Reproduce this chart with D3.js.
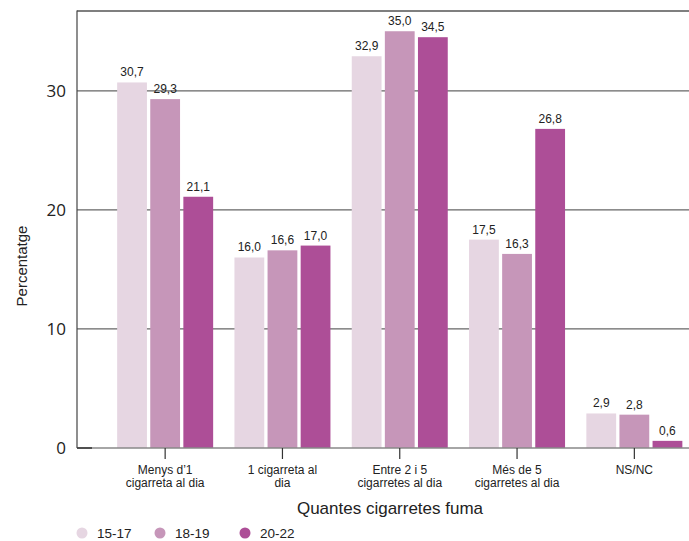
<!DOCTYPE html>
<html><head><meta charset="utf-8">
<script src="https://cdn.jsdelivr.net/npm/d3@7"></script>
<style>body{margin:0;background:#fff}svg{display:block}text{font-family:"Liberation Sans",Arial,sans-serif;fill:#222}</style>
</head><body><svg id="c" width="689" height="541"></svg>
<script>
const categories = [["Menys d\u20191","cigarreta al dia"],["1 cigarreta al","dia"],["Entre 2 i 5","cigarretes al dia"],["M\u00e9s de 5","cigarretes al dia"],["NS/NC"]];
const series = ["15-17","18-19","20-22"];
const v1517 = [30.7,16.0,32.9,17.5,2.9];
const v1819 = [29.3,16.6,35.0,16.3,2.8];
const v2022 = [21.1,17.0,34.5,26.8,0.6];
const colors = ["#e6d6e2","#c696b9","#ad4e97"];
const yTicks = [0,10,20,30];
const xTitle = "Quantes cigarretes fuma";
const yTitle = "Percentatge";

(function(){
const values = [v1517,v1819,v2022];
const svg = d3.select("#c");
const pL = 77, pR = 689, pT = 11, pB = 448;
const y = d3.scaleLinear().domain([0,36.7]).range([pB,pT]);
const catIdx = categories.map((d,i)=>i);
const x = d3.scaleBand().domain(catIdx).range([106.5,693]).paddingInner(0).paddingOuter(0);
const xi = d3.scaleBand().domain(d3.range(series.length)).range([0,96]).paddingInner(0.1);
const off = (x.bandwidth()-96)/2;

svg.append("g").selectAll("line").data(yTicks.filter(d=>d>0)).join("line")
  .attr("x1",pL).attr("x2",pR).attr("y1",d=>y(d)).attr("y2",d=>y(d))
  .attr("stroke","#666").attr("stroke-width",1.2);
svg.append("line").attr("x1",pL).attr("x2",pR).attr("y1",pT).attr("y2",pT).attr("stroke","#555").attr("stroke-width",1.5);

series.forEach((s,si)=>{
  const g = svg.append("g");
  g.selectAll("rect").data(values[si]).join("rect")
    .attr("x",(d,i)=>x(i)+off+xi(si)).attr("width",xi.bandwidth())
    .attr("y",d=>y(d)).attr("height",d=>y(0)-y(d)).attr("fill",colors[si]);
  g.selectAll("text").data(values[si]).join("text")
    .attr("x",(d,i)=>x(i)+off+xi(si)+xi.bandwidth()/2).attr("y",d=>y(d)-6)
    .attr("text-anchor","middle").attr("font-size",12)
    .text(d=>d3.format(".1f")(d).replace(".",","));
});

svg.append("line").attr("x1",pL).attr("x2",pR).attr("y1",pB).attr("y2",pB).attr("stroke","#888").attr("stroke-width",1.5);
svg.append("line").attr("x1",pL).attr("x2",92).attr("y1",pB).attr("y2",pB).attr("stroke","#333").attr("stroke-width",1.5);
svg.append("line").attr("x1",pL).attr("x2",pL).attr("y1",pT-0.5).attr("y2",pB).attr("stroke","#444").attr("stroke-width",1.2);

svg.append("g").selectAll("text").data(yTicks).join("text")
  .attr("x",66).attr("y",d=>y(d)).attr("dy","0.36em").attr("text-anchor","end")
  .attr("font-size",17).style("font-family","'Open Sans',sans-serif").text(d=>d);

const xg = svg.append("g");
categories.forEach((c,i)=>{
  const cx = x(i)+x.bandwidth()/2;
  xg.append("line").attr("x1",cx).attr("x2",cx).attr("y1",pB).attr("y2",459).attr("stroke","#333").attr("stroke-width",1.2);
  const t = xg.append("text").attr("text-anchor","middle").attr("font-size",12);
  c.forEach((line,li)=>t.append("tspan").attr("x",cx).attr("y",474+li*13).text(line));
});

svg.append("text").attr("x",390).attr("y",514).attr("text-anchor","middle").attr("font-size",17).text(xTitle);
svg.append("text").attr("transform","translate(27,266) rotate(-90)").attr("text-anchor","middle").attr("font-size",15).text(yTitle);

const lx = [82,160,245];
series.forEach((s,i)=>{
  svg.append("circle").attr("cx",lx[i]).attr("cy",533).attr("r",5.5).attr("fill",colors[i]);
  svg.append("text").attr("x",lx[i]+15).attr("y",533).attr("dy","0.36em").attr("font-size",13.5).text(s);
});
})();
</script></body></html>
